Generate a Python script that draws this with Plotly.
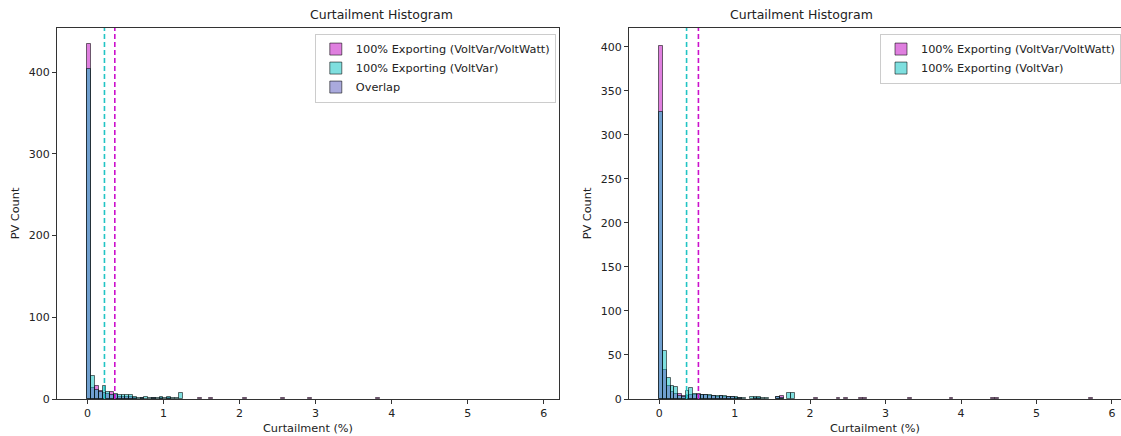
import plotly.graph_objects as go

BIN_WIDTH = 0.05

# ---- Left panel data (bin left edges, counts) ----
left_vvw_edges = [0.00, 0.05, 0.10, 0.15, 0.20, 0.25, 0.30, 0.35, 0.40, 0.45, 0.50, 0.55, 0.60, 0.70, 0.85, 0.95, 1.05, 1.45, 1.60, 2.05, 2.55, 2.90, 3.80]
left_vvw_counts = [435, 14, 16, 10, 7, 6, 8, 5, 2, 2, 3, 2, 1, 1, 1, 1, 1, 1, 1, 1, 1, 1, 1]
left_vv_edges = [0.00, 0.05, 0.10, 0.15, 0.20, 0.25, 0.30, 0.35, 0.40, 0.45, 0.50, 0.55, 0.60, 0.65, 0.70, 0.75, 0.80, 0.85, 0.90, 0.95, 1.00, 1.05, 1.10, 1.15, 1.20]
left_vv_counts = [404, 28, 11, 8, 16, 9, 5, 6, 5, 5, 5, 5, 2, 1, 1, 2, 1, 1, 1, 2, 1, 2, 1, 1, 7]
left_mean_vvw = 0.36
left_mean_vv = 0.224

# ---- Right panel data ----
right_vvw_edges = [0.00, 0.05, 0.10, 0.15, 0.20, 0.25, 0.30, 0.35, 0.40, 0.45, 0.50, 0.55, 0.60, 0.65, 0.70, 0.75, 0.80, 0.85, 0.90, 0.95, 1.00, 1.05, 1.25, 1.30, 1.55, 1.60, 2.05, 2.35, 2.45, 2.65, 2.70, 3.30, 3.85, 4.40, 4.45, 5.70]
right_vvw_counts = [401, 33, 15, 8, 6, 6, 3, 3, 4, 5, 6, 5, 4, 3, 3, 2, 3, 2, 2, 2, 1, 1, 1, 1, 2, 3, 1, 1, 1, 1, 1, 1, 1, 1, 1, 1]
right_vv_edges = [0.00, 0.05, 0.10, 0.15, 0.20, 0.25, 0.30, 0.35, 0.40, 0.45, 0.50, 0.55, 0.60, 0.65, 0.70, 0.75, 0.80, 0.85, 0.90, 0.95, 1.00, 1.05, 1.10, 1.20, 1.25, 1.30, 1.35, 1.40, 1.55, 1.60, 1.70, 1.75]
right_vv_counts = [326, 55, 24, 15, 14, 3, 2, 9, 12, 6, 5, 5, 4, 4, 3, 3, 3, 3, 2, 2, 2, 1, 1, 2, 2, 2, 1, 1, 2, 1, 7, 7]
right_mean_vvw = 0.52
right_mean_vv = 0.363

left_yticks = [0, 100, 200, 300, 400]
right_yticks = [0, 50, 100, 150, 200, 250, 300, 350, 400]
xticks = [0, 1, 2, 3, 4, 5, 6]

LABEL_VVW = "100% Exporting (VoltVar/VoltWatt)"
LABEL_VV = "100% Exporting (VoltVar)"
LABEL_OVERLAP = "Overlap"

MAGENTA_FILL = "rgba(191,0,191,0.5)"
CYAN_FILL = "rgba(0,191,191,0.5)"
OVERLAP_FILL = "rgba(85,85,187,0.5)"
EDGE = "rgba(0,0,0,0.55)"
FONT = "DejaVu Sans"

W, H = 1121, 436
ML, MT, MB = 57, 28, 37
plot_w = W - ML
dom_left = [0, (559 - ML) / plot_w]
dom_right = [(629 - ML) / plot_w, 1]

fig = go.Figure()


def centers(edges):
    return [e + BIN_WIDTH / 2 for e in edges]


def add_hist(edges, counts, color, name, xa, ya, legend):
    fig.add_trace(go.Bar(
        x=centers(edges), y=counts, width=BIN_WIDTH,
        marker=dict(color=color, line=dict(color=EDGE, width=1)),
        name=name, xaxis=xa, yaxis=ya, legend=legend,
        hoverinfo="x+y",
    ))


add_hist(left_vvw_edges, left_vvw_counts, MAGENTA_FILL, LABEL_VVW, "x", "y", "legend")
add_hist(left_vv_edges, left_vv_counts, CYAN_FILL, LABEL_VV, "x", "y", "legend")
fig.add_trace(go.Bar(
    x=[-10], y=[0], width=BIN_WIDTH,
    marker=dict(color=OVERLAP_FILL, line=dict(color=EDGE, width=1)),
    name=LABEL_OVERLAP, xaxis="x", yaxis="y", legend="legend",
))
add_hist(right_vvw_edges, right_vvw_counts, MAGENTA_FILL, LABEL_VVW, "x2", "y2", "legend2")
add_hist(right_vv_edges, right_vv_counts, CYAN_FILL, LABEL_VV, "x2", "y2", "legend2")

shapes = []
for xref, yref, val, col in [
    ("x", "y domain", left_mean_vv, "#22c4c4"),
    ("x", "y domain", left_mean_vvw, "#cc11cc"),
    ("x2", "y2 domain", right_mean_vv, "#22c4c4"),
    ("x2", "y2 domain", right_mean_vvw, "#cc11cc"),
]:
    shapes.append(dict(type="line", xref=xref, yref=yref, x0=val, x1=val, y0=0, y1=1,
                       line=dict(color=col, width=1.6, dash="5px,3px")))

axis_common = dict(
    showgrid=False, zeroline=False, showline=True, linecolor="#333333", linewidth=1,
    mirror=True, ticks="outside", ticklen=4, tickcolor="#333333",
    tickfont=dict(family=FONT, size=11, color="#222222"),
)

legend_common = dict(
    xanchor="right", y=0.985, yanchor="top",
    bgcolor="rgba(255,255,255,0.8)", bordercolor="#cccccc", borderwidth=1,
    font=dict(family=FONT, size=11.3), tracegroupgap=0,
)

fig.update_layout(
    width=W, height=H,
    margin=dict(l=ML, r=0, t=MT, b=MB),
    paper_bgcolor="white", plot_bgcolor="white",
    barmode="overlay", bargap=0,
    font=dict(family=FONT, size=11, color="#222222"),
    shapes=shapes,
    xaxis=dict(domain=dom_left, range=[-0.40, 6.2], tickvals=xticks, anchor="y",
               title=dict(text="Curtailment (%)", font=dict(size=11.3), standoff=4), **axis_common),
    yaxis=dict(domain=[0, 1], range=[0, 454], tickvals=left_yticks, anchor="x",
               title=dict(text="PV Count", font=dict(size=11.3), standoff=6), **axis_common),
    xaxis2=dict(domain=dom_right, range=[-0.40, 6.12], tickvals=xticks, anchor="y2",
                title=dict(text="Curtailment (%)", font=dict(size=11.3), standoff=4), **axis_common),
    yaxis2=dict(domain=[0, 1], range=[0, 421.5], tickvals=right_yticks, anchor="x2",
                title=dict(text="PV Count", font=dict(size=11.3), standoff=6), **axis_common),
    legend=dict(x=dom_left[1] - 0.003, **legend_common),
    legend2=dict(x=1.0, **legend_common),
    annotations=[
        dict(text="Curtailment Histogram", x=(dom_left[0] + dom_left[1]) / 2, y=1, xref="paper",
             yref="paper", yanchor="bottom", yshift=4, showarrow=False,
             font=dict(family=FONT, size=12.5, color="#222222")),
        dict(text="Curtailment Histogram", x=(dom_right[0] + dom_right[1]) / 2, y=1, xref="paper",
             yref="paper", yanchor="bottom", yshift=4, showarrow=False,
             font=dict(family=FONT, size=12.5, color="#222222")),
    ],
)

fig.write_html("out.html")
